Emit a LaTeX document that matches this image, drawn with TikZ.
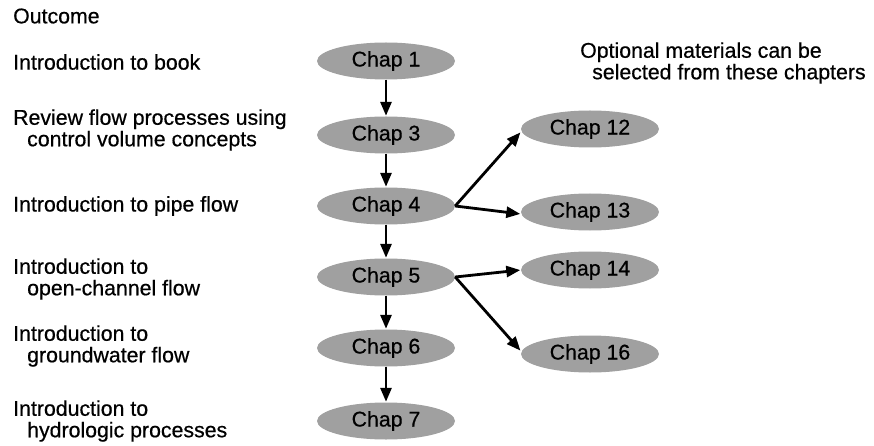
\documentclass[tikz,border=0pt]{standalone}
\usepackage{fontspec}
\setmainfont{Liberation Sans}[FakeBold=0.6]
\usetikzlibrary{shapes.geometric,arrows.meta}
\definecolor{chapfill}{RGB}{160,160,160}
\tikzset{
  chap/.style={ellipse, fill=chapfill, minimum width=138pt, minimum height=37pt,
    inner sep=0pt, font=\fontsize{21.3}{24}\selectfont},
  outcome/.style={anchor=west, align=left, inner sep=0pt,
    font=\fontsize{21.3}{21.5}\selectfont},
  flow/.style={line width=2.8pt, -{Triangle[length=14pt,width=11pt]}, shorten >=0.5pt}
}
\begin{document}
\begin{tikzpicture}[x=1pt,y=-1pt]
\useasboundingbox (0,0) rectangle (874,446);

% main sequence of chapters
\node[chap] (c1) at (386,61)  {Chap 1};
\node[chap] (c3) at (386,135) {Chap 3};
\node[chap] (c4) at (386,206) {Chap 4};
\node[chap] (c5) at (386,277) {Chap 5};
\node[chap] (c6) at (386,348) {Chap 6};
\node[chap] (c7) at (386,421) {Chap 7};

% optional chapters
\node[chap] (c12) at (590,129) {Chap 12};
\node[chap] (c13) at (590,212) {Chap 13};
\node[chap] (c14) at (590,270) {Chap 14};
\node[chap] (c16) at (590,354) {Chap 16};

% outcomes column
\node[outcome] (head) at (13,16)  {Outcome};
\node[outcome] (o1)   at (13,62)  {Introduction to book};
\node[outcome] (o3)   at (13,130) {Review flow processes using\\\hspace*{14pt}control volume concepts};
\node[outcome] (o4)   at (13,206) {Introduction to pipe flow};
\node[outcome] (o5)   at (13,279) {Introduction to\\\hspace*{14pt}open-channel flow};
\node[outcome] (o6)   at (13,346) {Introduction to\\\hspace*{14pt}groundwater flow};
\node[outcome] (o7)   at (13,421) {Introduction to\\\hspace*{14pt}hydrologic processes};

\node[outcome] (opt) at (580,63) {Optional materials can be\\\hspace*{12pt}selected from these chapters};

% connectors
\draw[flow] (c1.south) -- (c3.north);
\draw[flow] (c3.south) -- (c4.north);
\draw[flow] (c4.south) -- (c5.north);
\draw[flow] (c5.south) -- (c6.north);
\draw[flow] (c6.south) -- (c7.north);

\draw[flow] (c4.east) -- ([yshift=-3pt]c12.west);
\draw[flow] (c4.east) -- ([yshift=-2pt]c13.west);
\draw[flow] (c5.east) -- (c14.west);
\draw[flow] (c5.east) -- ([yshift=3pt]c16.west);
\end{tikzpicture}
\end{document}
